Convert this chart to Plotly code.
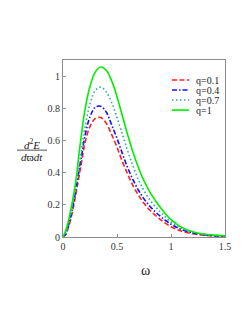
import plotly.graph_objects as go

OMEGA = [0, 0.025, 0.05, 0.075, 0.1, 0.125, 0.15, 0.175, 0.2, 0.25, 0.3, 0.35, 0.4, 0.45,
         0.5, 0.55, 0.6, 0.65, 0.7, 0.75, 0.8, 0.85, 0.9, 0.95, 1.0, 1.05, 1.1, 1.2, 1.3, 1.4, 1.5]

Q01 = [0, 0.015, 0.06, 0.12, 0.20, 0.29, 0.385, 0.48, 0.575, 0.69, 0.74, 0.745, 0.71, 0.64,
       0.56, 0.47, 0.39, 0.318, 0.26, 0.21, 0.17, 0.138, 0.11, 0.085, 0.064, 0.048, 0.036,
       0.02, 0.011, 0.006, 0.004]
Q04 = [0, 0.018, 0.07, 0.135, 0.22, 0.315, 0.42, 0.52, 0.62, 0.75, 0.81, 0.815, 0.78, 0.70,
       0.615, 0.52, 0.43, 0.355, 0.29, 0.238, 0.195, 0.16, 0.13, 0.103, 0.08, 0.061, 0.046,
       0.026, 0.014, 0.008, 0.005]
Q07 = [0, 0.022, 0.08, 0.15, 0.24, 0.34, 0.45, 0.56, 0.67, 0.83, 0.915, 0.935, 0.905, 0.84,
       0.745, 0.64, 0.535, 0.44, 0.355, 0.29, 0.235, 0.193, 0.157, 0.124, 0.095, 0.072, 0.054,
       0.03, 0.017, 0.01, 0.006]
Q1 = [0, 0.04, 0.10, 0.18, 0.27, 0.38, 0.53, 0.66, 0.78, 0.94, 1.03, 1.06, 1.04, 0.975,
      0.875, 0.755, 0.635, 0.525, 0.43, 0.35, 0.285, 0.232, 0.185, 0.143, 0.108, 0.082, 0.06,
      0.033, 0.019, 0.012, 0.008]

SERIES = [
    ("q=0.1", Q01, "#ff2020", "5px,2.5px"),
    ("q=0.4", Q04, "#1010ff", "5px,2px,1.5px,2px"),
    ("q=0.7", Q07, "#30a8a8", "1.5px,2.5px"),
    ("q=1", Q1, "#00ee00", "solid"),
]

X_TICKS = [0, 0.5, 1, 1.5]
X_TICKTEXT = ["0", "0.5", "1", "1.5"]
Y_TICKS = [0, 0.2, 0.4, 0.6, 0.8, 1]
Y_TICKTEXT = ["0", "0.2", "0.4", "0.6", "0.8", "1"]

fig = go.Figure()
for name, vals, color, dash in SERIES:
    fig.add_trace(go.Scatter(x=OMEGA, y=vals, mode="lines", name=name,
                             line=dict(color=color, width=1.6, dash=dash, shape="spline"),
                             showlegend=False))

OFF = 8  # page body margin
W, H = 249, 323
L, T = 63 - OFF, 60 - OFF
pw, ph = 162, 176.7
R = W - L - pw
B = H - T - ph

def px_x(p):
    return (p - OFF - L) / pw

def px_y(p):
    return 1 - (p - OFF - T) / ph

# compact legend
for i, (name, vals, color, dash) in enumerate(SERIES):
    yy = px_y(80 + 10 * i)
    fig.add_shape(type="line", xref="paper", yref="paper",
                  x0=px_x(172), x1=px_x(189), y0=yy, y1=yy,
                  line=dict(color=color, width=1.6, dash=dash))
    fig.add_annotation(xref="paper", yref="paper", x=px_x(194), y=yy, text=name,
                       showarrow=False, xanchor="left", yanchor="middle",
                       font=dict(family="Liberation Serif", size=10, color="#222"))

axis_common = dict(showline=True, linecolor="#8c8c8c", linewidth=1, mirror=True,
                   ticks="inside", ticklen=3, tickcolor="#8c8c8c", showgrid=False,
                   zeroline=False,
                   tickfont=dict(family="Liberation Serif", size=10, color="#333"))

fig.update_layout(
    width=W, height=H,
    margin=dict(l=L, r=R, t=T, b=B),
    paper_bgcolor="white", plot_bgcolor="white",
    xaxis=dict(range=[0, 1.5], tickvals=X_TICKS, ticktext=X_TICKTEXT, **axis_common),
    yaxis=dict(range=[0, 1.104], tickvals=Y_TICKS, ticktext=Y_TICKTEXT, **axis_common),
)

# x-axis title
fig.add_annotation(xref="paper", yref="paper", x=px_x(145), y=px_y(270), text="ω",
                   showarrow=False, xanchor="center", yanchor="middle",
                   font=dict(family="Liberation Serif", size=14, color="#222"))
# y-axis fraction label
fig.add_annotation(xref="paper", yref="paper", x=px_x(32), y=px_y(144),
                   text="<i>d</i><sup>2</sup><i>E</i>",
                   showarrow=False, xanchor="center", yanchor="middle",
                   font=dict(family="Liberation Serif", size=11, color="#222"))
fig.add_annotation(xref="paper", yref="paper", x=px_x(32), y=px_y(157),
                   text="<i>d</i>ϖ<i>dt</i>",
                   showarrow=False, xanchor="center", yanchor="middle",
                   font=dict(family="Liberation Serif", size=11, color="#222"))
fig.add_shape(type="line", xref="paper", yref="paper", x0=px_x(17), x1=px_x(47),
              y0=px_y(150), y1=px_y(150), line=dict(color="#222", width=0.8))

fig.write_html("out.html")
